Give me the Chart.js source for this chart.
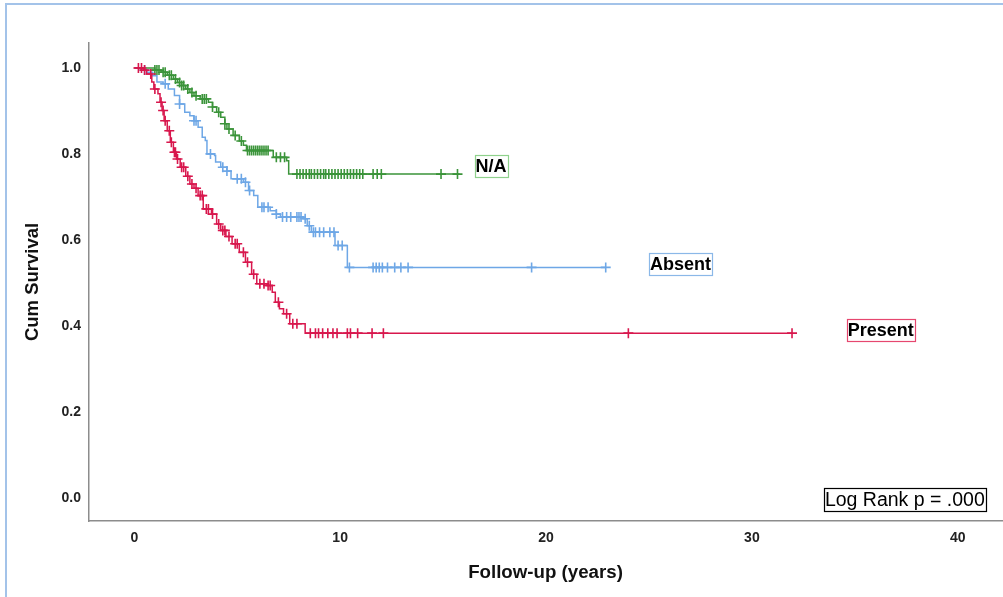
<!DOCTYPE html>
<html>
<head>
<meta charset="utf-8">
<script src="https://cdn.jsdelivr.net/npm/chart.js@4.4.1/dist/chart.umd.min.js"></script>
<style>
  html, body { margin: 0; padding: 0; background: #fff; overflow: hidden; }
  #wrap { position: relative; width: 1003px; height: 597px; }
  #frame { position: absolute; left: 5px; top: 3px; width: 2000px; height: 2000px;
           border-left: 2.5px solid #a3c3e9; border-top: 2.5px solid #a3c3e9; pointer-events: none; }
</style>
</head>
<body>
<div id="wrap">
  <canvas id="kmChart" width="1003" height="597"></canvas>
  <div id="frame"></div>
</div>
<script>
// --- DATA ---

const groups = ['Present', 'Absent', 'N/A']

// [time, survival after the step]
const presentSteps = [[0,1],[0.45,0.995],[0.6,0.986],[0.85,0.967],[0.95,0.951],[1.15,0.94],[1.25,0.92],[1.35,0.901],
  [1.45,0.877],[1.6,0.854],[1.75,0.827],[1.9,0.804],[2.05,0.788],[2.23,0.769],[2.5,0.748],[2.7,0.73],[2.9,0.72],
  [3.1,0.703],[3.35,0.672],[3.75,0.66],[4.0,0.637],[4.2,0.622],[4.45,0.608],[4.75,0.591],[5.1,0.571],[5.4,0.548],
  [5.7,0.52],[5.95,0.498],[6.45,0.494],[6.7,0.478],[6.85,0.455],[7.05,0.44],[7.25,0.428],[7.55,0.405],[8.3,0.383],[31.95,0.383]]

const absentSteps = [[0,1],[0.3,0.995],[0.6,0.99],[0.9,0.982],[1.1,0.967],[1.4,0.963],[1.65,0.951],[1.95,0.936],
  [2.2,0.916],[2.45,0.897],[2.7,0.889],[2.9,0.877],[3.1,0.862],[3.3,0.839],[3.45,0.831],[3.53,0.8],[3.9,0.796],
  [3.95,0.781],[4.2,0.769],[4.5,0.76],[4.7,0.742],[5.3,0.734],[5.55,0.715],[5.8,0.703],[6.0,0.676],[6.6,0.668],
  [6.9,0.66],[7.1,0.653],[8.2,0.649],[8.4,0.633],[8.6,0.618],[9.75,0.587],[10.35,0.536],[22.9,0.536]]

const naSteps = [[0,1],[1.0,0.995],[1.3,0.99],[1.6,0.983],[1.9,0.974],[2.1,0.966],[2.3,0.959],[2.5,0.951],[2.7,0.943],
  [2.9,0.935],[3.2,0.928],[3.6,0.92],[3.8,0.909],[4.0,0.897],[4.2,0.885],[4.4,0.87],[4.5,0.858],[4.8,0.843],
  [5.1,0.83],[5.3,0.82],[5.45,0.808],[6.75,0.792],[7.4,0.784],[7.5,0.753],[15.8,0.753]]

// censored times
const presentCensored = [0.2,0.35,0.5,0.8,1.0,1.3,1.4,1.5,1.7,1.8,1.95,2.0,2.1,2.3,2.4,2.6,2.8,3.0,3.2,3.3,3.5,3.6,3.8,
  4.1,4.3,4.4,4.6,4.9,5.0,5.3,5.5,5.8,6.1,6.3,6.5,6.6,7.0,7.4,7.7,7.9,8.55,8.8,8.95,9.15,9.4,9.65,9.85,10.35,
  10.5,10.85,11.55,12.1,24.0,31.95]

const absentCensored = [0.5,1.5,2.2,2.9,3.0,3.7,4.3,4.5,5.0,5.2,5.4,5.6,6.2,6.3,6.5,6.9,7.2,7.4,7.6,7.9,8.0,8.1,
  8.3,8.5,8.7,8.8,9.0,9.2,9.5,9.7,9.9,10.1,10.45,11.6,11.75,11.9,12.05,12.3,12.65,12.95,13.3,19.3,22.9]

const naCensored = [1.0,1.1,1.2,1.4,1.5,1.7,1.8,2.0,2.2,2.3,2.4,2.6,2.8,3.0,3.3,3.4,3.5,3.8,4.1,4.4,4.6,4.9,5.2,
  5.5,5.6,5.7,5.8,5.9,6.0,6.1,6.2,6.3,6.4,6.5,6.9,7.1,7.3,7.9,8.05,8.2,8.35,8.5,8.6,8.75,8.9,9.05,9.2,9.3,9.45,
  9.6,9.75,9.9,10.05,10.2,10.35,10.5,10.65,10.8,10.95,11.1,11.6,11.8,12.0,14.9,15.7]

const xTicks = [0, 10, 20, 30, 40]
const yTicks = [0, 0.2, 0.4, 0.6, 0.8, 1.0]
const logRankText = 'Log Rank p = .000'

const colors = {
  'Present': '#d8174d',
  'Absent': '#6ea7e6',
  'N/A': '#3b943a'
}

// --- HELPERS ---

function survivalAt(steps, t){
  let s = steps[0][1]
  for (const [time, val] of steps) {
    if (time <= t) s = val
    else break
  }
  return s
}

function toPoints(steps){
  return steps.map(([x, y]) => ({ x, y }))
}

function censorPoints(steps, times){
  return times.map(t => ({ x: t, y: survivalAt(steps, t) }))
}

const stepsByGroup = { 'Present': presentSteps, 'Absent': absentSteps, 'N/A': naSteps }
const censorByGroup = { 'Present': presentCensored, 'Absent': absentCensored, 'N/A': naCensored }

const datasets = []
groups.forEach(g => {
  datasets.push({
    label: g,
    data: toPoints(stepsByGroup[g]),
    showLine: true,
    stepped: 'before',
    borderColor: colors[g],
    borderWidth: 1.5,
    pointRadius: 0,
    fill: false
  })
  datasets.push({
    label: g + ' censored',
    data: censorPoints(stepsByGroup[g], censorByGroup[g]),
    showLine: false,
    pointStyle: 'cross',
    pointRadius: 5,
    borderColor: colors[g],
    backgroundColor: colors[g],
    pointBorderWidth: 1.6
  })
})

// --- LABEL BOXES ---

const boxLabels = {
  id: 'boxLabels',
  afterDatasetsDraw(chart, args, opts){
    const { ctx, scales: { x, y } } = chart
    ctx.save()
    opts.items.forEach(item => {
      ctx.font = item.font
      const w = ctx.measureText(item.text).width
      const cx = x.getPixelForValue(item.x)
      const cy = y.getPixelForValue(item.y)
      const bw = w + item.pad * 2
      const bh = item.h
      ctx.fillStyle = '#fff'
      ctx.fillRect(cx - bw / 2, cy - bh / 2, bw, bh)
      ctx.strokeStyle = item.border
      ctx.lineWidth = 1.2
      ctx.strokeRect(Math.round(cx - bw / 2) + 0.5, Math.round(cy - bh / 2) + 0.5, Math.round(bw), Math.round(bh))
      ctx.fillStyle = '#000'
      ctx.textAlign = 'center'
      ctx.textBaseline = 'middle'
      ctx.fillText(item.text, cx, cy + 1)
    })
    ctx.restore()
  }
}

function initChart(){
  const ctx = document.getElementById('kmChart').getContext('2d')

  new Chart(ctx, {
    type: 'scatter',
    data: { datasets },
    plugins: [boxLabels],
    options: {
      responsive: false,
      animation: false,
      layout: { autoPadding: false, padding: { left: 0, right: 1, top: 43, bottom: 0 } },
      plugins: {
        legend: { display: false },
        tooltip: { enabled: false },
        boxLabels: {
          items: [
            { text: 'N/A', x: 17.33, y: 0.772, font: 'bold 18px "Liberation Sans", Arial, sans-serif', pad: 1, h: 22, border: '#8fd18c' },
            { text: 'Absent', x: 26.53, y: 0.544, font: 'bold 18px "Liberation Sans", Arial, sans-serif', pad: 1, h: 22, border: '#8bb8e8' },
            { text: 'Present', x: 36.26, y: 0.391, font: 'bold 18px "Liberation Sans", Arial, sans-serif', pad: 1, h: 22, border: '#e6476f' },
            { text: logRankText, x: 37.43, y: -0.0035, font: '19.5px "Liberation Sans", Arial, sans-serif', pad: 1, h: 23, border: '#000' }
          ]
        }
      },
      scales: {
        x: {
          type: 'linear',
          min: -2.2,
          max: 42.15,
          afterFit: s => { s.height = 76; s.paddingLeft = 0; s.paddingRight = 0 },
          afterBuildTicks: s => { s.ticks = xTicks.map(v => ({ value: v })) },
          grid: { display: false, drawTicks: false },
          border: { display: true, color: '#8c8c8c', width: 1.5 },
          ticks: {
            padding: 9,
            color: '#222',
            font: { family: '"Liberation Sans", Arial, sans-serif', size: 14, weight: 'bold' },
            callback: v => String(v)
          },
          title: {
            display: true,
            text: 'Follow-up (years)',
            color: '#111',
            font: { family: '"Liberation Sans", Arial, sans-serif', size: 18.7, weight: 'bold' },
            padding: { top: 0, bottom: 13 }
          }
        },
        y: {
          type: 'linear',
          min: -0.054,
          max: 1.058,
          afterFit: s => { s.width = 89; s.paddingTop = 0; s.paddingBottom = 0 },
          afterBuildTicks: s => { s.ticks = yTicks.map(v => ({ value: v })) },
          grid: { display: false, drawTicks: false },
          border: { display: true, color: '#8c8c8c', width: 1.5 },
          ticks: {
            padding: 8,
            color: '#222',
            font: { family: '"Liberation Sans", Arial, sans-serif', size: 14, weight: 'bold' },
            callback: v => v.toFixed(1)
          },
          title: {
            display: true,
            text: 'Cum Survival',
            color: '#111',
            font: { family: '"Liberation Sans", Arial, sans-serif', size: 18.5, weight: 'bold' },
            padding: { top: 22, bottom: 0 }
          }
        }
      }
    }
  })
}

initChart()
</script>
</body>
</html>
